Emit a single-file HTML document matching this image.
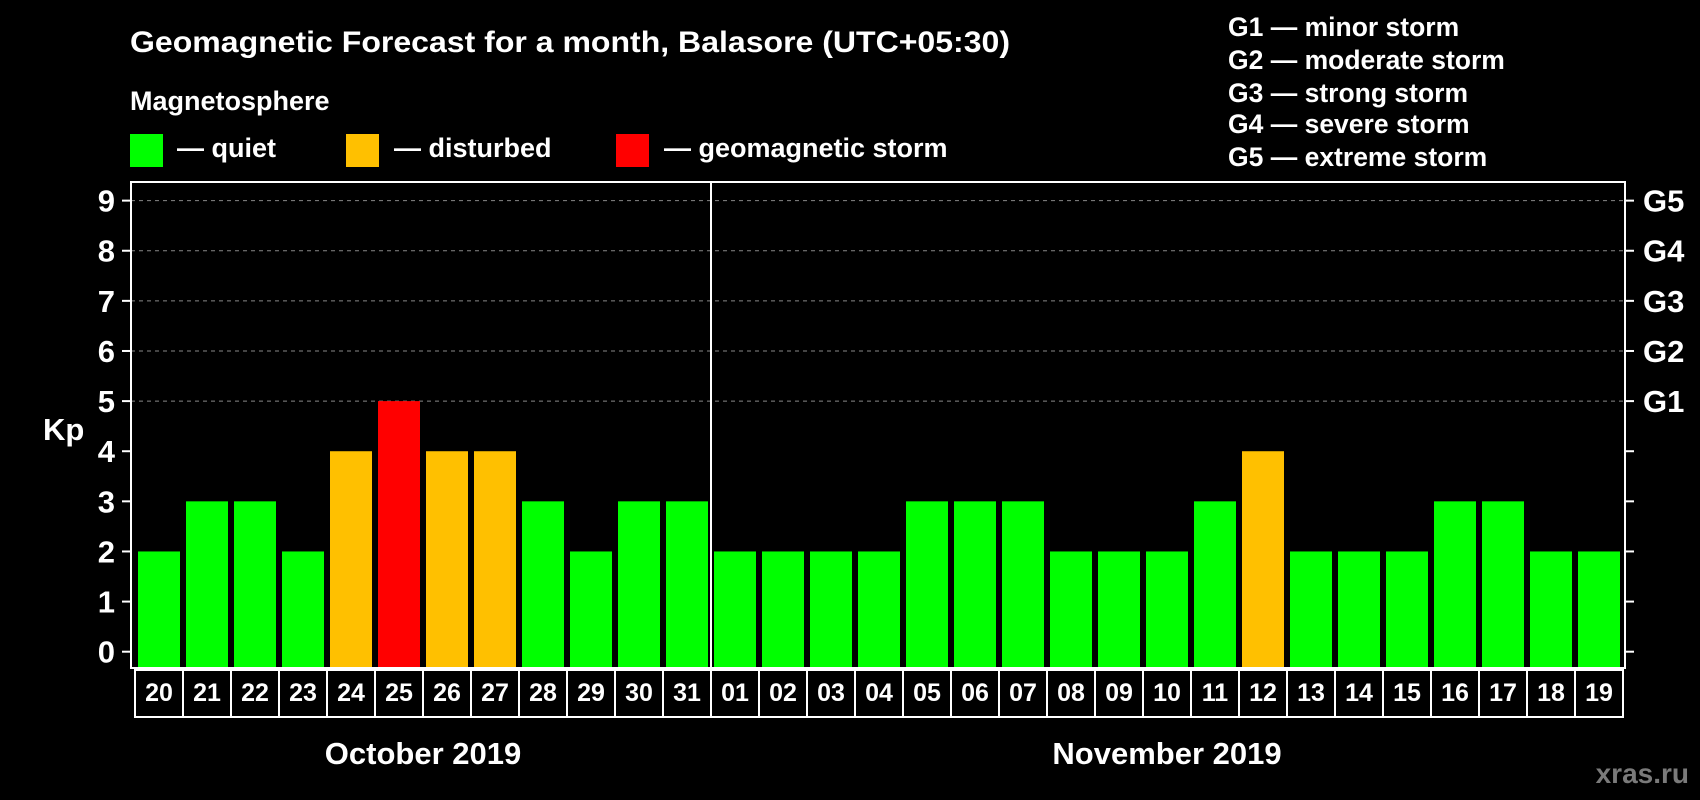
<!DOCTYPE html>
<html><head><meta charset="utf-8"><style>
html,body{margin:0;padding:0;background:#000;width:1700px;height:800px;overflow:hidden}
svg{display:block;font-family:"Liberation Sans",Arial,sans-serif;font-weight:bold}
</style></head><body>
<svg id="chart" width="1700" height="800">
<text x="130" y="52" font-size="30" fill="#fff" textLength="880" lengthAdjust="spacingAndGlyphs">Geomagnetic Forecast for a month, Balasore (UTC+05:30)</text>
<text x="130" y="110" font-size="27" fill="#fff">Magnetosphere</text>
<g>
<rect x="130" y="134" width="33" height="33" fill="#00ff00"/>
<text x="177" y="157" font-size="27" fill="#fff">— quiet</text>
<rect x="346" y="134" width="33" height="33" fill="#ffc000"/>
<text x="394" y="157" font-size="27" fill="#fff">— disturbed</text>
<rect x="616" y="134" width="33" height="33" fill="#ff0000"/>
<text x="664" y="157" font-size="27" fill="#fff">— geomagnetic storm</text>
</g>
<g font-size="26.5" fill="#fff">
<text x="1228" y="36">G1 — minor storm</text>
<text x="1228" y="69">G2 — moderate storm</text>
<text x="1228" y="102">G3 — strong storm</text>
<text x="1228" y="133">G4 — severe storm</text>
<text x="1228" y="166">G5 — extreme storm</text>
</g>
<text x="43" y="440" font-size="31" fill="#fff">Kp</text>
<text x="423" y="764" font-size="31" fill="#fff" text-anchor="middle">October 2019</text>
<text x="1167" y="764" font-size="31" fill="#fff" text-anchor="middle">November 2019</text>
<text x="1689" y="783" font-size="28" fill="#7a7a7a" text-anchor="end">xras.ru</text>
<g id="plot"></g>
</svg>
<script>
const days = ["20","21","22","23","24","25","26","27","28","29","30","31","01","02","03","04","05","06","07","08","09","10","11","12","13","14","15","16","17","18","19"];
const kp = [2,3,3,2,4,5,4,4,3,2,3,3,2,2,2,2,3,3,3,2,2,2,3,4,2,2,2,3,3,2,2];
const yTicks = [0,1,2,3,4,5,6,7,8,9];
const gLabels = ["G1","G2","G3","G4","G5"];
const gLevels = [5,6,7,8,9];
const NS="http://www.w3.org/2000/svg";
const g=document.getElementById('plot');
const L=131,R=1625,T=182,B=668,cell0=135,cw=48;
function y(v){return 651.7-50.12*v;}
function x(i){return cell0+cw*i;}
function mk(t,a,p){const e=document.createElementNS(NS,t);for(const k in a)e.setAttribute(k,a[k]);(p||g).appendChild(e);return e;}
function color(v){return v>=5?"#ff0000":v>=4?"#ffc000":"#00ff00";}
yTicks.forEach(v=>{
  if(v>=5){const l=mk('line',{x1:L,x2:R,y1:y(v),y2:y(v),stroke:'#888','stroke-width':1,'stroke-dasharray':'4,4'});
  
  }
  const t1=mk('line',{x1:L-9,x2:L,y1:y(v),y2:y(v),stroke:'#fff','stroke-width':2});
  
  
  const t2=mk('line',{x1:R,x2:R+9,y1:y(v),y2:y(v),stroke:'#fff','stroke-width':2});
  
  
  const tx=mk('text',{x:115,y:y(v)+11,'font-size':31,fill:'#fff','text-anchor':'end'});
  tx.textContent=v;
  
  
});
gLabels.forEach((s,i)=>{
  const tx=mk('text',{x:1643,y:y(gLevels[i])+11,'font-size':31,fill:'#fff'});
  tx.textContent=s;
  
  
});
kp.forEach((v,i)=>{
  const r=mk('rect',{x:x(i)+3,y:y(v),width:42,height:B-1-y(v),fill:color(v)});
  
  
  const c=mk('rect',{x:x(i),y:B+2,width:cw,height:47,fill:'none',stroke:'#fff','stroke-width':2});
  
  
  const t=mk('text',{x:x(i)+cw/2,y:B+33,'font-size':25,fill:'#fff','text-anchor':'middle'});
  t.textContent=days[i];
  
  
});
const fr=mk('rect',{x:L,y:T,width:R-L,height:B-T,fill:'none',stroke:'#fff','stroke-width':2});


const si=days.indexOf("01");
const d=mk('line',{x1:x(si),x2:x(si),y1:T,y2:B,stroke:'#fff','stroke-width':2});


</script>
</body></html>
